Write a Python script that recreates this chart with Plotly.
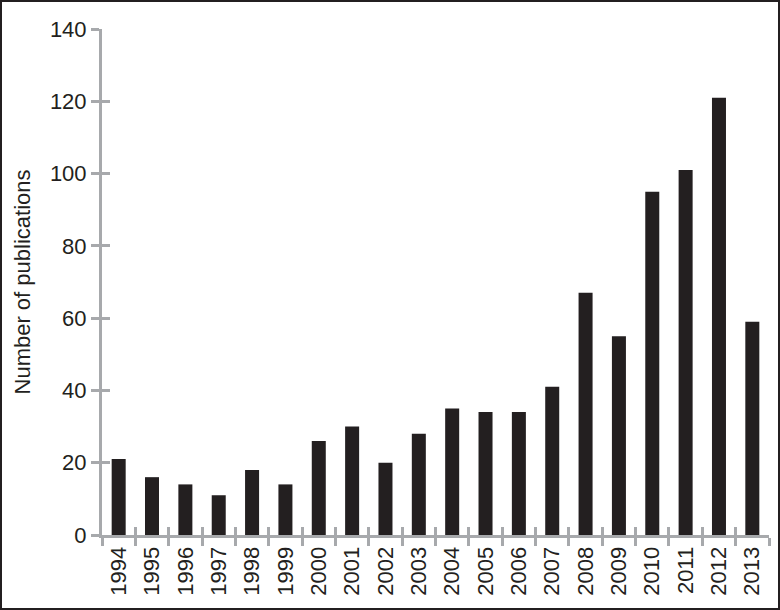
import plotly.graph_objects as go

years = [str(y) for y in range(1994, 2014)]
publications = [21, 16, 14, 11, 18, 14, 26, 30, 20, 28, 35, 34, 34, 41, 67, 55, 95, 101, 121, 59]
y_ticks = [0, 20, 40, 60, 80, 100, 120, 140]

bar_color = "#231f20"
axis_color = "#a7a9ac"
text_color = "#231f20"
font_family = "Liberation Sans, Arial, sans-serif"

ML, MR, MT, MB = 102, 11, 29, 75
PW, PH = 780 - ML - MR, 610 - MT - MB

fig = go.Figure()
fig.add_trace(go.Bar(x=years, y=publications, marker=dict(color=bar_color, line=dict(width=0)),
                     xaxis="x", yaxis="y", showlegend=False))
# overlay (invisible) trace so the secondary axes carry the same categories
fig.add_trace(go.Bar(x=years, y=publications, marker=dict(color="rgba(0,0,0,0)", line=dict(width=0)),
                     xaxis="x2", yaxis="y2", showlegend=False, hoverinfo="skip"))

common_x = dict(type="category", categoryorder="array", categoryarray=years,
                range=[-0.5, len(years) - 0.5], tickson="boundaries", automargin=False,
                ticklen=8, tickwidth=3, tickcolor=axis_color, showgrid=False, zeroline=False)
common_y = dict(range=[0, 140], tickvals=y_ticks, ticklen=8, tickwidth=3, tickcolor=axis_color,
                showgrid=False, zeroline=False, automargin=False)

fig.update_layout(
    width=780, height=610,
    margin=dict(l=ML, r=MR, t=MT, b=MB),
    paper_bgcolor="white", plot_bgcolor="white",
    bargap=0.58,
    font=dict(family=font_family, color=text_color, size=20),
    xaxis=dict(**common_x, ticks="outside", showline=True, linecolor=axis_color, linewidth=3,
               tickangle=-90, tickfont=dict(size=22, color=text_color)),
    xaxis2=dict(**common_x, ticks="inside", overlaying="x", showticklabels=False, showline=False),
    yaxis=dict(**common_y, ticks="outside", showline=True, linecolor=axis_color, linewidth=3,
               tickfont=dict(size=22, color=text_color),
               title=dict(text="Number of publications", font=dict(size=22, color=text_color), standoff=14)),
    yaxis2=dict(**common_y, ticks="inside", overlaying="y", showticklabels=False, showline=False),
)
# outer border of the image
fig.add_shape(type="rect", xref="x domain", yref="y domain",
              x0=-(ML - 1) / PW, x1=1 + (MR - 1) / PW, y0=-(MB - 1) / PH, y1=1 + (MT - 1) / PH,
              line=dict(color="#231f20", width=2), layer="above")

fig.write_html("out.html", config={"displayModeBar": False},
               post_script="document.body.style.margin='0';")
